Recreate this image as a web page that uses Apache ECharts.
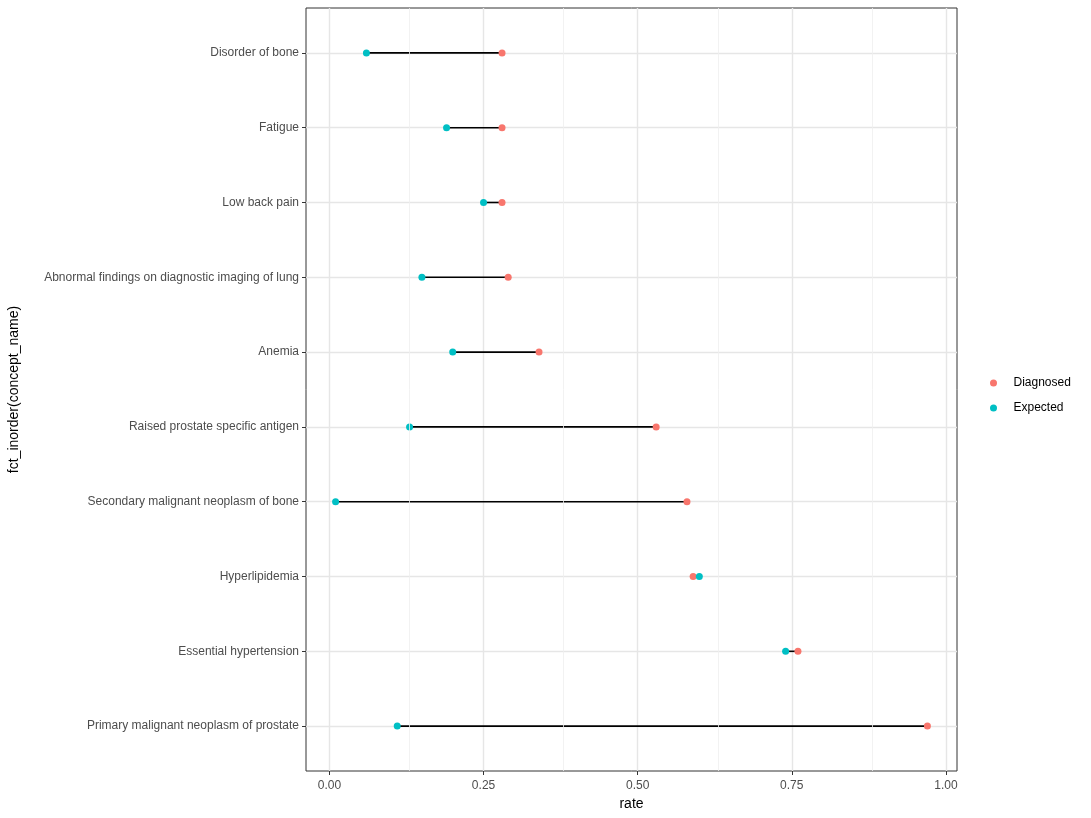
<!DOCTYPE html>
<html>
<head>
<meta charset="utf-8">
<script src="https://cdn.jsdelivr.net/npm/echarts@6/dist/echarts.min.js"></script>
<style>
  html, body { margin: 0; padding: 0; background: #fff; }
  #main { width: 1091px; height: 818px; }
</style>
</head>
<body>
<div id="main"></div>
<script>
// categories top to bottom
const categories = [
  'Disorder of bone',
  'Fatigue',
  'Low back pain',
  'Abnormal findings on diagnostic imaging of lung',
  'Anemia',
  'Raised prostate specific antigen',
  'Secondary malignant neoplasm of bone',
  'Hyperlipidemia',
  'Essential hypertension',
  'Primary malignant neoplasm of prostate'
]
const diagnosed = [0.28, 0.28, 0.28, 0.29, 0.34, 0.53, 0.58, 0.59, 0.76, 0.97]
const expected = [0.06, 0.19, 0.25, 0.15, 0.20, 0.13, 0.01, 0.60, 0.74, 0.11]
const xTicks = [0, 0.25, 0.5, 0.75, 1]
const xMinor = [0.125, 0.375, 0.625, 0.875]
const yTicks = categories.map((c, i) => i + 1)

const chart = echarts.init(document.getElementById('main'))

const gridColor = '#E6E6E6'
const textColor = '#4D4D4D'
const font = 'Liberation Sans, Arial, sans-serif'

chart.setOption({
  animation: false,
  backgroundColor: '#fff',
  grid: {
    left: 306,
    right: 134,
    top: 8,
    bottom: 47,
    outerBoundsMode: 'none',
    containLabel: false,
    show: true,
    borderColor: '#333333',
    borderWidth: 1,
    backgroundColor: '#fff'
  },
  legend: {
    orient: 'vertical',
    left: 985,
    top: 371,
    data: ['Diagnosed', 'Expected'],
    icon: 'circle',
    itemWidth: 30,
    itemHeight: 7,
    itemGap: 11,
    textStyle: { color: '#000', fontSize: 12, lineHeight: 14, fontFamily: font }
  },
  xAxis: {
    type: 'value',
    // ggplot style 5% expansion
    min: v => v.min - 0.05 * (v.max - v.min),
    max: v => v.max + 0.05 * (v.max - v.min),
    name: 'rate',
    nameLocation: 'middle',
    nameGap: 26,
    nameTextStyle: { color: '#000', fontSize: 14, fontFamily: font },
    axisLine: { show: false, onZero: false },
    axisTick: { show: true, length: 4, customValues: xTicks, lineStyle: { color: '#333333', width: 1 } },
    axisLabel: {
      customValues: xTicks,
      formatter: v => v.toFixed(2),
      color: textColor,
      fontSize: 12,
      margin: 9,
      fontFamily: font
    },
    splitLine: { show: true, lineStyle: { color: gridColor, width: 1.4 } }
  },
  yAxis: {
    type: 'value',
    inverse: true,
    min: 0.4,
    max: categories.length + 0.6,
    name: 'fct_inorder(concept_name)',
    nameLocation: 'middle',
    nameGap: 285,
    nameRotate: 90,
    nameTextStyle: { color: '#000', fontSize: 14, fontFamily: font },
    axisLine: { show: false, onZero: false },
    axisTick: { show: true, length: 4, customValues: yTicks, lineStyle: { color: '#333333', width: 1 } },
    axisLabel: {
      customValues: yTicks,
      formatter: v => categories[Math.round(v) - 1] || '',
      color: textColor,
      fontSize: 12,
      margin: 7,
      fontFamily: font
    },
    splitLine: { show: true, lineStyle: { color: gridColor, width: 1.4 } }
  },
  series: [
    {
      // minor vertical grid lines
      name: 'minor',
      type: 'scatter',
      data: [],
      z: 1,
      silent: true,
      markLine: {
        silent: true,
        symbol: 'none',
        label: { show: false },
        lineStyle: { color: '#EFEFEF', width: 0.8, type: 'solid' },
        data: xMinor.map(v => ({ xAxis: v }))
      }
    },
    {
      name: 'segments',
      type: 'custom',
      z: 2,
      silent: true,
      renderItem: (params, api) => {
        const y = api.value(2)
        const p1 = api.coord([api.value(0), y])
        const p2 = api.coord([api.value(1), y])
        return {
          type: 'line',
          shape: { x1: p1[0], y1: p1[1], x2: p2[0], y2: p2[1] },
          style: { stroke: '#000', lineWidth: 1.6 }
        }
      },
      data: categories.map((c, i) => [expected[i], diagnosed[i], i + 1])
    },
    {
      name: 'Diagnosed',
      type: 'scatter',
      z: 3,
      symbolSize: 7,
      itemStyle: { color: '#F8766D', opacity: 1 },
      data: diagnosed.map((v, i) => [v, i + 1])
    },
    {
      name: 'Expected',
      type: 'scatter',
      z: 4,
      symbolSize: 7,
      itemStyle: { color: '#00BFC4', opacity: 1 },
      data: expected.map((v, i) => [v, i + 1])
    }
  ]
})
</script>
</body>
</html>
